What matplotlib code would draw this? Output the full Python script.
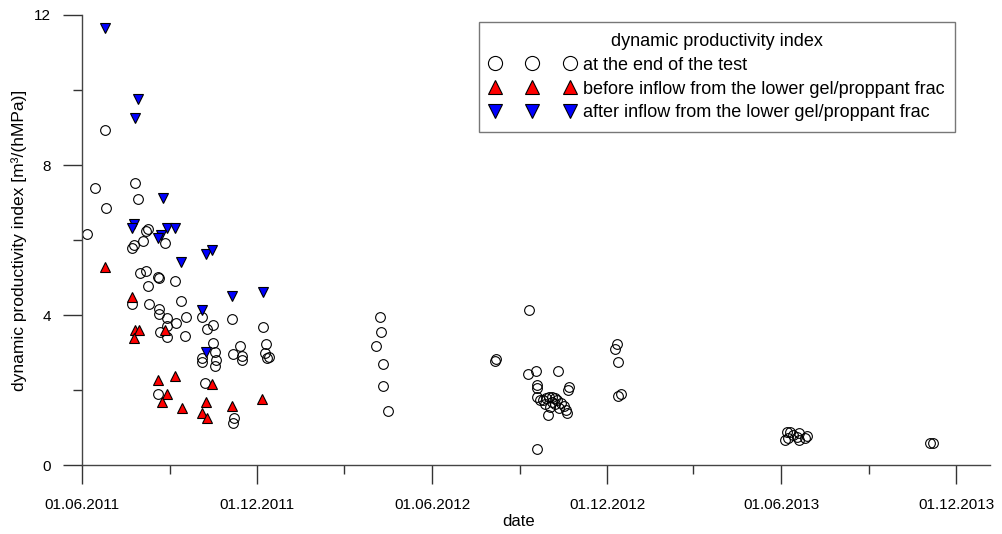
import pandas as pd
import matplotlib
matplotlib.use("Agg")
import matplotlib.pyplot as plt
import matplotlib.dates as mdates

plt.rcParams['font.family'] = ['Liberation Sans', 'DejaVu Sans']

# dynamic productivity index at the end of the test
end_dates = [
    '06.06.2011', '15.06.2011', '25.06.2011', '26.06.2011', '26.07.2011', '30.07.2011',
    '09.08.2011', '07.08.2011', '04.08.2011', '25.07.2011', '23.07.2011', '27.08.2011',
    '01.08.2011', '07.08.2011', '20.08.2011', '21.08.2011', '06.09.2011', '09.08.2011',
    '13.09.2011', '23.07.2011', '10.08.2011', '21.08.2011', '21.08.2011', '29.08.2011',
    '18.09.2011', '07.09.2011', '29.08.2011', '22.08.2011', '29.08.2011', '17.09.2011',
    '04.10.2011', '10.10.2011', '16.10.2011', '05.11.2011', '07.12.2011', '16.10.2011',
    '18.10.2011', '05.10.2011', '05.10.2011', '19.10.2011', '18.10.2011', '13.11.2011',
    '06.11.2011', '15.11.2011', '15.11.2011', '10.12.2011', '09.12.2011', '13.12.2011',
    '11.12.2011', '08.10.2011', '20.08.2011', '07.11.2011', '06.11.2011',
    '08.04.2012', '09.04.2012', '03.04.2012', '11.04.2012', '11.04.2012', '16.04.2012',
    '07.08.2012', '06.08.2012',
    '10.09.2012', '09.09.2012', '18.09.2012', '11.10.2012', '22.10.2012', '21.10.2012',
    '19.09.2012', '19.09.2012', '19.09.2012', '19.09.2012',
    '22.09.2012', '25.09.2012', '28.09.2012', '01.10.2012', '04.10.2012', '07.10.2012',
    '10.10.2012', '14.10.2012', '17.10.2012', '19.10.2012', '27.09.2012', '02.10.2012',
    '07.10.2012', '12.10.2012', '30.09.2012', '20.10.2012', '04.10.2012',
    '11.12.2012', '09.12.2012', '12.12.2012', '15.12.2012', '12.12.2012',
    '07.06.2013', '10.06.2013', '05.06.2013', '08.06.2013', '13.06.2013', '17.06.2013',
    '20.06.2013', '20.06.2013', '26.06.2013', '28.06.2013',
    '04.11.2013', '07.11.2013',
]
end_values = [
    6.16, 7.39, 8.93, 6.85, 7.52, 7.09,
    6.29, 6.24, 5.97, 5.87, 5.79, 5.92,
    5.12, 5.17, 5.01, 4.99, 4.91, 4.77,
    4.37, 4.29, 4.29, 4.16, 4.03, 3.92,
    3.95, 3.79, 3.71, 3.55, 3.41, 3.44,
    3.95, 3.63, 3.73, 3.89, 3.68, 3.25,
    3.01, 2.85, 2.75, 2.80, 2.64, 3.17,
    2.96, 2.91, 2.80, 3.23, 2.99, 2.88,
    2.85, 2.19, 1.89, 1.25, 1.12,
    3.94, 3.55, 3.17, 2.69, 2.11, 1.44,
    2.83, 2.78,
    4.13, 2.43, 2.51, 2.51, 2.08, 2.00,
    2.13, 2.05, 1.81, 0.43,
    1.73, 1.73, 1.79, 1.81, 1.81, 1.79,
    1.73, 1.65, 1.57, 1.47, 1.63, 1.55,
    1.63, 1.52, 1.33, 1.39, 1.68,
    3.23, 3.09, 2.75, 1.89, 1.84,
    0.88, 0.88, 0.67, 0.72, 0.80, 0.75,
    0.67, 0.85, 0.72, 0.77,
    0.59, 0.59,
]

# before inflow from the lower gel/proppant frac
before_dates = [
    '25.06.2011', '23.07.2011', '26.07.2011', '31.07.2011', '25.07.2011', '27.08.2011',
    '20.08.2011', '06.09.2011', '29.08.2011', '24.08.2011', '14.09.2011', '09.10.2011',
    '04.10.2011', '10.10.2011', '15.10.2011', '05.11.2011', '06.12.2011',
]
before_values = [
    5.28, 4.48, 3.60, 3.60, 3.39, 3.60,
    2.27, 2.37, 1.89, 1.68, 1.52, 1.68,
    1.39, 1.25, 2.16, 1.57, 1.76,
]

# after inflow from the lower gel/proppant frac
after_dates = [
    '25.06.2011', '30.07.2011', '26.07.2011', '25.08.2011', '25.07.2011', '23.07.2011',
    '29.08.2011', '06.09.2011', '23.08.2011', '20.08.2011', '13.09.2011', '09.10.2011',
    '15.10.2011', '04.10.2011', '09.10.2011', '05.11.2011', '07.12.2011',
]
after_values = [
    11.65, 9.76, 9.25, 7.12, 6.43, 6.32,
    6.32, 6.32, 6.13, 6.05, 5.41, 5.63,
    5.73, 4.13, 3.01, 4.51, 4.61,
]

labels = ['at the end of the test',
          'before inflow from the lower gel/proppant frac',
          'after inflow from the lower gel/proppant frac']


def fechas(lista):
    return pd.to_datetime(lista, format='%d.%m.%Y')


fig = plt.figure(figsize=(10.02, 5.34), dpi=100)
ax = fig.add_axes([0.0818, 0.129, 0.906, 0.843])

ax.plot(fechas(end_dates), end_values, linestyle='none', marker='o', markersize=7,
        markerfacecolor='none', markeredgecolor='black', markeredgewidth=0.8, label=labels[0])
ax.plot(fechas(before_dates), before_values, linestyle='none', marker='^', markersize=7.2,
        markerfacecolor='#ff0000', markeredgecolor='black', markeredgewidth=0.8, label=labels[1])
ax.plot(fechas(after_dates), after_values, linestyle='none', marker='v', markersize=7.2,
        markerfacecolor='#0000ff', markeredgecolor='black', markeredgewidth=0.8, label=labels[2])

# ejes
ax.set_xlim(pd.Timestamp('2011-06-01'), pd.Timestamp('2014-01-05'))
ax.set_ylim(0, 12)
ax.xaxis.set_major_locator(mdates.MonthLocator(bymonth=[6, 12]))
ax.xaxis.set_minor_locator(mdates.MonthLocator(bymonth=[3, 9]))
ax.xaxis.set_major_formatter(mdates.DateFormatter('%d.%m.%Y'))
ax.set_yticks([0, 4, 8, 12])
ax.set_yticks([2, 6, 10], minor=True)

for lado in ['top', 'right']:
    ax.spines[lado].set_visible(False)
for lado in ['left', 'bottom']:
    ax.spines[lado].set_color('#444444')
    ax.spines[lado].set_linewidth(1.0)

ax.tick_params(which='major', direction='out', length=13.5, width=1.0, color='#333333',
               labelsize=11)
ax.tick_params(which='minor', direction='out', length=6.5, width=1.0, color='#333333')
ax.tick_params(axis='x', which='major', pad=10)
ax.tick_params(axis='y', which='major', pad=9)

ax.set_xlabel('date', fontsize=12)
ax.set_ylabel('dynamic productivity index [m³/(hMPa)]', fontsize=12.5)
ax.xaxis.set_label_coords(0.481, -0.108)
ax.yaxis.set_label_coords(-0.060, 0.5)

leg = ax.legend(title='dynamic productivity index', loc='upper right',
                bbox_to_anchor=(955 / 1002, 1 - 22 / 534), bbox_transform=fig.transFigure,
                numpoints=3, markerscale=1.45, handlelength=4.75, handletextpad=0.4,
                labelspacing=0.38, fontsize=13, title_fontsize=13, fancybox=False,
                borderaxespad=0, borderpad=0.6)
leg.get_frame().set_edgecolor('#555555')
leg.get_frame().set_linewidth(1.0)

plt.savefig('out.png', dpi=100)
